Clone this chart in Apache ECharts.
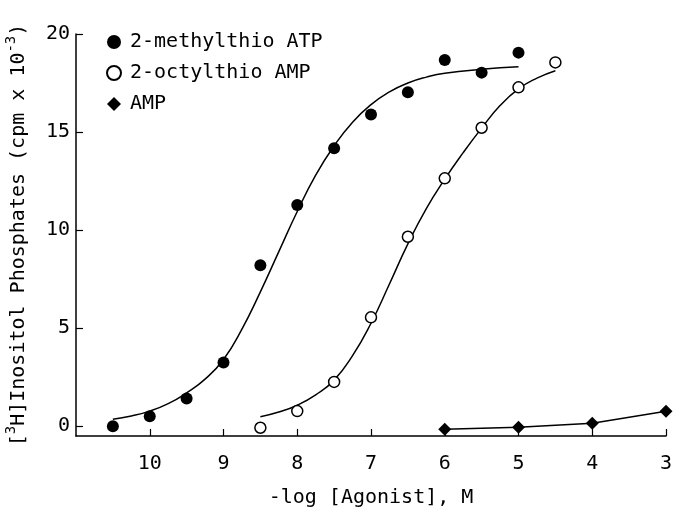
<!DOCTYPE html>
<html>
<head>
<meta charset="utf-8">
<script src="https://cdn.jsdelivr.net/npm/echarts@6/dist/echarts.min.js"></script>
<style>
  html, body { margin: 0; padding: 0; background: #fff; }
  #main { width: 675px; height: 507px; }
</style>
</head>
<body>
<div id="main"></div>
<script>
// measured points (-log M, cpm x 10^-3)
const doseATP = [10.5, 10, 9.5, 9, 8.5, 8, 7.5, 7, 6.5, 6, 5.5, 5];
const respATP = [0.0, 0.51, 1.41, 3.25, 8.21, 11.28, 14.17, 15.9, 17.03, 18.67, 18.03, 19.05];
const doseOct = [8.5, 8, 7.5, 7, 6.5, 6, 5.5, 5, 4.5];
const respOct = [-0.08, 0.77, 2.26, 5.55, 9.66, 12.64, 15.22, 17.28, 18.55];
const doseAMP = [6, 5, 4, 3];
const respAMP = [-0.15, -0.05, 0.15, 0.76];

// fitted curves
const fitDoseATP = [10.5, 10.25, 10, 9.75, 9.5, 9.25, 9, 8.75, 8.5, 8.25, 8, 7.75, 7.5, 7.25, 7, 6.75, 6.5, 6.25, 6, 5.5, 5];
const fitRespATP = [0.35, 0.52, 0.77, 1.15, 1.7, 2.4, 3.4, 4.95, 6.85, 8.9, 10.95, 12.8, 14.3, 15.5, 16.4, 17.05, 17.5, 17.8, 18.0, 18.2, 18.33];
const fitDoseOct = [8.5, 8.25, 8, 7.75, 7.5, 7.25, 7, 6.75, 6.5, 6.25, 6, 5.75, 5.5, 5.25, 5, 4.75, 4.5];
const fitRespOct = [0.48, 0.72, 1.07, 1.6, 2.35, 3.6, 5.25, 7.25, 9.3, 11.1, 12.6, 13.95, 15.2, 16.35, 17.2, 17.75, 18.13];

const xTicks = [10, 9, 8, 7, 6, 5, 4, 3];
const yTicks = [0, 5, 10, 15, 20];

const zip = (a, b) => a.map((v, i) => [v, b[i]]);
const FONT = "DejaVu Sans Mono";

var myChart = echarts.init(document.getElementById("main"));
myChart.setOption({
  animation: false,
  backgroundColor: "#fff",
  textStyle: { fontFamily: FONT, color: "#000" },
  grid: { left: 76, right: 9, top: 34, bottom: 71, outerBoundsMode: "none", containLabel: false },
  legend: {
    orient: "vertical",
    left: 106,
    top: 32,
    padding: 0,
    itemWidth: 14,
    itemHeight: 14,
    itemGap: 11,
    textStyle: { fontFamily: FONT, fontSize: 20, color: "#000", padding: [0, 0, 0, 4] },
    data: [
      { name: "2-methylthio ATP", icon: "circle" },
      { name: "2-octylthio AMP", icon: "circle" },
      { name: "AMP", icon: "diamond" },
    ],
  },
  xAxis: {
    type: "value",
    min: 3,
    max: 11,
    inverse: true,
    interval: 1,
    name: "-log [Agonist], M",
    nameLocation: "middle",
    nameGap: 52,
    nameTextStyle: { fontFamily: FONT, fontSize: 20, color: "#000" },
    axisLine: { onZero: false, lineStyle: { color: "#000", width: 1.5 } },
    axisTick: { inside: true, length: 7, customValues: xTicks, lineStyle: { color: "#000", width: 1.2 } },
    axisLabel: { customValues: xTicks, margin: 18, fontFamily: FONT, fontSize: 20, color: "#000" },
    splitLine: { show: false },
  },
  yAxis: {
    type: "value",
    min: -0.5,
    max: 20,
    name: "[{sup|3}H]Inositol Phosphates (cpm x 10{sup|-3})",
    nameLocation: "middle",
    nameGap: 42,
    nameRotate: 90,
    nameTextStyle: {
      fontFamily: FONT,
      fontSize: 20,
      color: "#000",
      lineHeight: 30,
      rich: { sup: { fontFamily: FONT, fontSize: 14, lineHeight: 14, verticalAlign: "top", color: "#000" } },
    },
    axisLine: { show: true, onZero: false, lineStyle: { color: "#000", width: 1.5 } },
    axisTick: { show: true, inside: true, length: 7, customValues: yTicks, lineStyle: { color: "#000", width: 1.2 } },
    axisLabel: { customValues: yTicks, margin: 6, fontFamily: FONT, fontSize: 20, color: "#000" },
    splitLine: { show: false },
  },
  series: [
    {
      name: "2-methylthio ATP",
      type: "scatter",
      symbol: "circle",
      symbolSize: 12,
      itemStyle: { color: "#000", opacity: 1 },
      data: zip(doseATP, respATP),
      z: 3,
    },
    {
      name: "fitATP",
      type: "line",
      smooth: true,
      showSymbol: false,
      lineStyle: { color: "#000", width: 1.5 },
      data: zip(fitDoseATP, fitRespATP),
    },
    {
      name: "2-octylthio AMP",
      type: "scatter",
      symbol: "circle",
      symbolSize: 11,
      itemStyle: { color: "#fff", borderColor: "#000", borderWidth: 1.5, opacity: 1 },
      data: zip(doseOct, respOct),
      z: 3,
    },
    {
      name: "fitOct",
      type: "line",
      smooth: true,
      showSymbol: false,
      lineStyle: { color: "#000", width: 1.5 },
      data: zip(fitDoseOct, fitRespOct),
    },
    {
      name: "AMP",
      type: "line",
      symbol: "diamond",
      symbolSize: 13,
      itemStyle: { color: "#000" },
      lineStyle: { color: "#000", width: 1.5 },
      data: zip(doseAMP, respAMP),
      z: 3,
    },
  ],
});
</script>
</body>
</html>
